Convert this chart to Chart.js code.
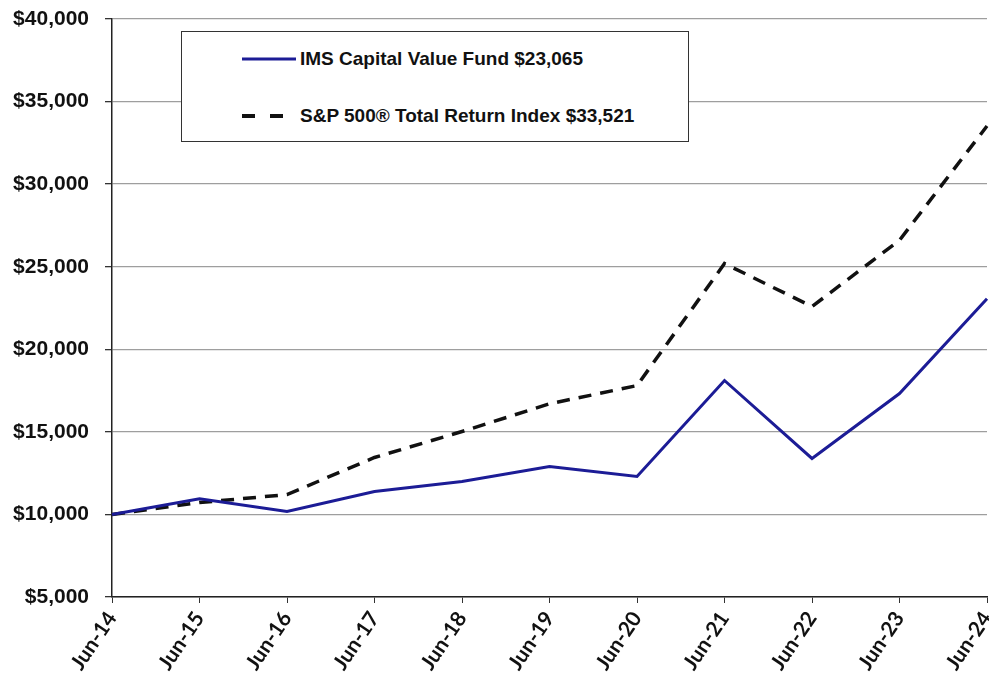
<!DOCTYPE html>
<html>
<head>
<meta charset="utf-8">
<script src="https://cdn.jsdelivr.net/npm/chart.js@4.4.1/dist/chart.umd.min.js"></script>
<style>
  html, body { margin: 0; padding: 0; background: #fff; }
  #wrap { position: relative; width: 989px; height: 683px; overflow: hidden; }
  #legendBox {
    position: absolute; left: 181px; top: 31px; width: 506px; height: 109px;
    border: 1.5px solid #333; background: #fff;
    font-family: "Liberation Sans", Arial, sans-serif; font-weight: bold; font-size: 19px; color: #111;
  }
  .legend-row { position: absolute; left: 58px; height: 24px; display: flex; align-items: center; }
  .legend-row svg { margin-right: 4px; }
</style>
</head>
<body>
<div id="wrap">
  <canvas id="chart" width="989" height="683"></canvas>
  <div id="legendBox"></div>
</div>
<script>
// Data
const periods = ['Jun-14', 'Jun-15', 'Jun-16', 'Jun-17', 'Jun-18', 'Jun-19', 'Jun-20', 'Jun-21', 'Jun-22', 'Jun-23', 'Jun-24'];
const imsFund = [10000, 10950, 10180, 11390, 12000, 12900, 12300, 18110, 13390, 17320, 23065];
const sp500 = [10000, 10720, 11200, 13450, 15020, 16700, 17800, 25190, 22590, 26600, 33521];
const seriesNames = ['IMS Capital Value Fund $23,065', 'S&P 500\u00AE Total Return Index $33,521'];
const yMin = 5000;
const yMax = 40000;
const yStep = 5000;

const navy = '#1c1c96';
const black = '#111111';

// Legend (boxed, inside the plot)
const legendBox = document.getElementById('legendBox');
const legendItems = [
    { label: seriesNames[0], color: navy, dash: null, top: 15 },
    { label: seriesNames[1], color: black, dash: '13 15', top: 72 }
];
legendItems.forEach(item => {
    const row = document.createElement('div');
    row.className = 'legend-row';
    row.style.top = item.top + 'px';
    const dashAttr = item.dash ? ` stroke-dasharray="${item.dash}"` : '';
    row.innerHTML = `<svg width="56" height="10"><line x1="2" y1="5" x2="56" y2="5" stroke="${item.color}" stroke-width="${item.dash ? 4 : 3}"${dashAttr}/></svg><span>${item.label.replace('&', '&amp;')}</span>`;
    legendBox.appendChild(row);
});

const ctx = document.getElementById('chart').getContext('2d');
new Chart(ctx, {
    type: 'line',
    data: {
        labels: periods,
        datasets: [
            {
                label: seriesNames[0],
                data: imsFund,
                borderColor: navy,
                borderWidth: 3,
                pointRadius: 0,
                tension: 0
            },
            {
                label: seriesNames[1],
                data: sp500,
                borderColor: black,
                borderWidth: 3.5,
                borderDash: [13, 9],
                pointRadius: 0,
                tension: 0
            }
        ]
    },
    options: {
        responsive: false,
        animation: false,
        devicePixelRatio: 1,
        layout: { padding: { top: 19, right: 2, left: 0, bottom: 0 } },
        plugins: {
            legend: { display: false },
            tooltip: { enabled: false }
        },
        scales: {
            x: {
                offset: false,
                grid: {
                    drawOnChartArea: false,
                    drawTicks: true,
                    tickLength: 6,
                    tickColor: '#333'
                },
                border: { color: '#222', width: 1.5 },
                ticks: {
                    autoSkip: false,
                    minRotation: 56,
                    maxRotation: 56,
                    padding: 4,
                    color: '#111',
                    font: { family: 'Lato', weight: 'bold', size: 21 }
                },
                afterFit: scale => {
                    scale.height = 86;
                    scale.paddingRight = 0;
                    scale.paddingLeft = 0;
                }
            },
            y: {
                min: yMin,
                max: yMax,
                grid: {
                    color: '#9e9e9e',
                    lineWidth: 1.3,
                    drawTicks: true,
                    tickLength: 7,
                    tickColor: '#333'
                },
                border: { color: '#222', width: 1.5 },
                ticks: {
                    stepSize: yStep,
                    padding: 16,
                    color: '#111',
                    font: { family: 'Liberation Sans', weight: 'bold', size: 21 },
                    callback: value => '$' + value.toLocaleString('en-US')
                },
                afterFit: scale => {
                    scale.width = 112;
                    scale.paddingTop = 0;
                    scale.paddingBottom = 0;
                }
            }
        }
    }
});
</script>
</body>
</html>
